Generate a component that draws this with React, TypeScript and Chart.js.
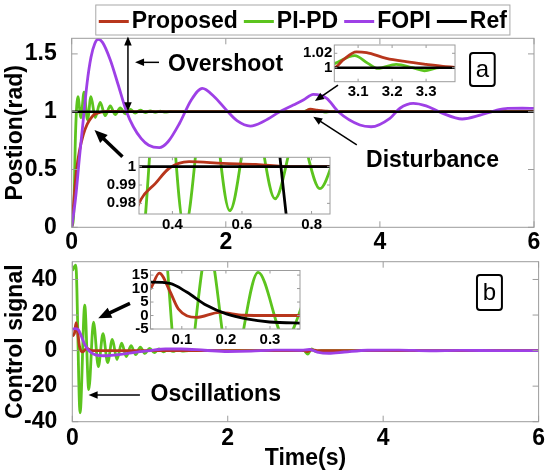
import React, { useEffect, useRef } from "react";
import { Chart, registerables } from "chart.js";

Chart.register(...registerables);

const FONT = "'Liberation Sans', Arial, Helvetica, sans-serif";
const W = 550;
const H = 475;

const RED = "#b8361c";
const GREEN = "#5cc41e";
const PURPLE = "#9e40e6";
const BLACK = "#000000";
const FRAME = "#9c9c9c";

// ---------- labels ----------
const seriesLabels = ["Proposed", "PI-PD", "FOPI", "Ref"];
const posTitle = "Postion(rad)";
const ctrlTitle = "Control signal";
const timeTitle = "Time(s)";

// ---------- ticks ----------
const posXTicks = [0, 2, 4, 6];
const posYTicks = [0, 0.5, 1, 1.5];
const ctrlXTicks = [0, 2, 4, 6];
const ctrlYTicks = [-40, -20, 0, 20, 40];
const zoomDistXTicks = [3.1, 3.2, 3.3];
const zoomDistYTicks = [1, 1.02];
const zoomRiseXTicks = [0.4, 0.6, 0.8];
const zoomRiseYTicks = [0.98, 0.99, 1];
const zoomCtrlXTicks = [0.1, 0.2, 0.3];
const zoomCtrlYTicks = [-5, 0, 5, 10, 15];

// ---------- position (a) : [time, rad] ----------
const posProposed = [
  [0, 0], [0.03, 0.25], [0.06, 0.48], [0.1, 0.66], [0.15, 0.8], [0.2, 0.89], [0.25, 0.945],
  [0.304, 0.98], [0.352, 0.991], [0.39, 0.999], [0.448, 1.0027], [0.545, 1.0018], [0.64, 1.0012],
  [0.74, 1.0], [3.0, 1.0], [3.03, 1.0], [3.056, 1.0107], [3.095, 1.022], [3.125, 1.0209],
  [3.183, 1.013], [3.241, 1.0083], [3.3, 1.0046], [3.358, 1.0014], [3.42, 1.0], [6, 1.0],
];
const posPIPD = [
  [0, 0], [0.025, 0.1], [0.05, 0.82], [0.08, 1.13], [0.12, 0.95], [0.16, 1.17], [0.205, 0.93],
  [0.25, 1.13], [0.305, 0.95], [0.37, 1.08], [0.435, 0.966], [0.5, 1.05], [0.565, 0.976],
  [0.63, 1.032], [0.695, 0.9825], [0.76, 1.02], [0.824, 0.988], [0.89, 1.013], [0.955, 0.992],
  [1.02, 1.008], [1.085, 0.995], [1.15, 1.005], [1.215, 0.997], [1.28, 1.002], [1.35, 1.0],
  [3.0, 1.0], [3.032, 1.006], [3.09, 1.0167], [3.129, 1.006], [3.158, 0.999], [3.212, 1.0046],
  [3.26, 1.0], [3.295, 0.9958], [3.34, 1.0], [6, 1.0],
];
const posFOPI = [
  [0, 0], [0.05, 0.25], [0.1, 0.6], [0.15, 0.93], [0.2, 1.25], [0.25, 1.47], [0.3, 1.59],
  [0.342, 1.626], [0.4, 1.6], [0.5, 1.45], [0.6, 1.24], [0.712, 1.0], [0.8, 0.87], [0.9, 0.77],
  [1.0, 0.71], [1.137, 0.689], [1.25, 0.74], [1.4, 0.9], [1.55, 1.1], [1.696, 1.202], [1.85, 1.13],
  [2.0, 1.02], [2.15, 0.92], [2.318, 0.876], [2.5, 0.92], [2.7, 1.0], [2.876, 1.058], [3.006, 1.101],
  [3.136, 1.15], [3.31, 1.116], [3.46, 1.0], [3.74, 0.885], [3.886, 0.87], [4.13, 0.943],
  [4.26, 1.03], [4.432, 1.072], [4.6, 1.05], [4.8, 0.99], [5.068, 0.937], [5.3, 0.97],
  [5.5, 1.01], [5.659, 1.029], [5.85, 1.03], [6, 1.028],
];
const posRef = [[0, 1], [6, 1]];

// ---------- control signal (b) : [time, value] ----------
const ctrlProposed = [
  [0, 8], [0.029, 10], [0.049, 15.7], [0.073, 9], [0.092, 2.5], [0.133, -0.7], [0.186, 1.2],
  [0.24, 0.1], [0.3, 0], [2.98, 0], [3.02, -0.6], [3.08, 0.4], [3.15, 0], [6, 0],
];
const ctrlPIPD = [
  [0, 45], [0.045, 48], [0.1, -35], [0.16, 25.5], [0.212, -22], [0.273, 16], [0.335, -9],
  [0.395, 9.5], [0.455, -6.8], [0.515, 6.3], [0.575, -5], [0.635, 4.2], [0.695, -3.4],
  [0.755, 2.8], [0.815, -2.3], [0.875, 1.9], [0.935, -1.6], [0.995, 1.3], [1.055, -1.1],
  [1.115, 0.9], [1.175, -0.7], [1.235, 0.6], [1.295, -0.45], [1.355, 0.35], [1.415, -0.25],
  [1.5, 0], [2.98, 0], [3.03, -2], [3.08, 1], [3.13, -0.5], [3.2, 0], [6, 0],
];
const ctrlFOPI = [
  [0, 12], [0.032, 12.4], [0.073, 11.9], [0.111, 8.7], [0.156, 3.8], [0.201, 0.6], [0.247, -1.25],
  [0.299, -2.4], [0.367, -2.8], [0.45, -2.9], [0.6, -2.3], [0.8, -1.0], [1.0, 0], [1.2, 0.9],
  [1.4, 0.9], [1.7, 0.2], [2.0, -0.5], [2.3, -0.3], [2.6, 0.3], [2.95, 0.2], [3.05, 0.6],
  [3.15, -0.8], [3.3, -1.5], [3.5, -0.8], [3.8, 0.2], [4.2, 0.3], [4.6, -0.1], [5.0, 0.1],
  [5.5, 0], [6, 0],
];

// ---------- layout (page pixels) ----------
const AREA_POS = { left: 71.7, right: 534, top: 38.3, bottom: 227.3 };
const AREA_CTRL = { left: 72.3, right: 539, top: 261.7, bottom: 421.7 };
const AREA_Z1 = { left: 334.3, right: 455, top: 45, bottom: 81.7 };
const AREA_Z2 = { left: 139, right: 330, top: 157.3, bottom: 214 };
const AREA_Z3 = { left: 150.5, right: 300, top: 270.5, bottom: 329 };

const pts = (a: number[][]) => a.map(([x, y]) => ({ x, y }));

function ds(label: string, data: number[][], color: string, order: number, width = 2.8) {
  return {
    label,
    data: pts(data),
    borderColor: color,
    backgroundColor: color,
    borderWidth: width,
    pointRadius: 0,
    fill: false,
    cubicInterpolationMode: "monotone",
    order,
  };
}

const numLabel = (v: any) => String(Number(v));

function framePlugin(id: string, tickLen: number, whiteBg: boolean) {
  return {
    id,
    beforeDatasetsDraw(chart: any) {
      if (!whiteBg) return;
      const { ctx, chartArea: a } = chart;
      ctx.save();
      ctx.fillStyle = "#ffffff";
      ctx.fillRect(a.left, a.top, a.right - a.left, a.bottom - a.top);
      ctx.restore();
    },
    afterDatasetsDraw(chart: any) {
      const { ctx, chartArea: a, scales } = chart;
      ctx.save();
      ctx.strokeStyle = FRAME;
      ctx.lineWidth = 1;
      ctx.strokeRect(a.left, a.top, a.right - a.left, a.bottom - a.top);
      ctx.beginPath();
      for (const t of scales.x.ticks) {
        const p = scales.x.getPixelForValue(t.value);
        ctx.moveTo(p, a.bottom);
        ctx.lineTo(p, a.bottom - tickLen);
        ctx.moveTo(p, a.top);
        ctx.lineTo(p, a.top + tickLen);
      }
      for (const t of scales.y.ticks) {
        const p = scales.y.getPixelForValue(t.value);
        ctx.moveTo(a.left, p);
        ctx.lineTo(a.left + tickLen, p);
        ctx.moveTo(a.right, p);
        ctx.lineTo(a.right - tickLen, p);
      }
      ctx.stroke();
      ctx.restore();
    },
  };
}

function headAt(ctx: any, x: number, y: number, ang: number, head: number) {
  const hw = head * 0.42;
  const c = Math.cos(ang);
  const s = Math.sin(ang);
  ctx.beginPath();
  ctx.moveTo(x, y);
  ctx.lineTo(x - head * c + hw * s, y - head * s - hw * c);
  ctx.lineTo(x - head * c - hw * s, y - head * s + hw * c);
  ctx.closePath();
  ctx.fill();
}

function drawArrow(ctx: any, x1: number, y1: number, x2: number, y2: number, lw: number, head: number, dbl: boolean) {
  const ang = Math.atan2(y2 - y1, x2 - x1);
  const c = Math.cos(ang);
  const s = Math.sin(ang);
  ctx.strokeStyle = "#000";
  ctx.fillStyle = "#000";
  ctx.lineWidth = lw;
  ctx.beginPath();
  const sx = dbl ? x1 + c * head * 0.8 : x1;
  const sy = dbl ? y1 + s * head * 0.8 : y1;
  ctx.moveTo(sx, sy);
  ctx.lineTo(x2 - c * head * 0.8, y2 - s * head * 0.8);
  ctx.stroke();
  headAt(ctx, x2, y2, ang, head);
  if (dbl) headAt(ctx, x1, y1, ang + Math.PI, head);
}

function annotationPlugin(id: string, items: any[]) {
  return {
    id,
    afterDraw(chart: any) {
      const { ctx, scales } = chart;
      const X = (t: number) => scales.x.getPixelForValue(t);
      const Y = (v: number) => scales.y.getPixelForValue(v);
      ctx.save();
      for (const it of items) {
        if (it.kind === "arrow") {
          drawArrow(ctx, X(it.from[0]), Y(it.from[1]), X(it.to[0]), Y(it.to[1]), it.lw, it.head, !!it.dbl);
        } else if (it.kind === "text") {
          ctx.fillStyle = "#000";
          ctx.font = `bold ${it.size}px ${FONT}`;
          ctx.textAlign = "left";
          ctx.textBaseline = "middle";
          ctx.fillText(it.text, X(it.at[0]), Y(it.at[1]));
        } else if (it.kind === "box") {
          const x0 = X(it.x0), x1 = X(it.x1), y0 = Y(it.y0), y1 = Y(it.y1);
          const r = 3;
          ctx.strokeStyle = "#000";
          ctx.lineWidth = 2;
          ctx.beginPath();
          ctx.roundRect(x0, y0, x1 - x0, y1 - y0, r);
          ctx.stroke();
          ctx.fillStyle = "#000";
          ctx.font = `24px ${FONT}`;
          ctx.textAlign = "center";
          ctx.textBaseline = "middle";
          ctx.fillText(it.text, (x0 + x1) / 2, (y0 + y1) / 2 + 1);
        }
      }
      ctx.restore();
    },
  };
}

const legendPlugin = {
  id: "matlabLegend",
  afterDraw(chart: any) {
    const { ctx, chartArea: a } = chart;
    const items = chart.data.datasets.filter((d: any) => d.showInLegend);
    ctx.save();
    ctx.font = `bold 23px ${FONT}`;
    const lineLen = 30, gapText = 3, gapItem = 6, pad = 3;
    const widths = items.map((d: any) => ctx.measureText(d.label).width);
    const content = widths.reduce((s: number, w: number) => s + w + lineLen + gapText, 0) + gapItem * (items.length - 1);
    const boxW = content + pad * 2;
    const cx = (a.left + a.right) / 2;
    const bx = cx - boxW / 2;
    const by = 5, bh = 30;
    ctx.fillStyle = "#fff";
    ctx.fillRect(bx, by, boxW, bh);
    ctx.strokeStyle = "#a8a8a8";
    ctx.lineWidth = 1;
    ctx.strokeRect(bx, by, boxW, bh);
    let x = bx + pad;
    const y = by + bh / 2 + 1.5;
    items.forEach((d: any, i: number) => {
      ctx.strokeStyle = d.legendColor || d.borderColor;
      ctx.lineWidth = 3;
      ctx.beginPath();
      ctx.moveTo(x, y);
      ctx.lineTo(x + lineLen, y);
      ctx.stroke();
      x += lineLen + gapText;
      ctx.fillStyle = "#000";
      ctx.textAlign = "left";
      ctx.textBaseline = "middle";
      ctx.fillText(d.label, x, y);
      x += widths[i] + gapItem;
    });
    ctx.restore();
  },
};

function buildOptions(o: any) {
  const font = { family: FONT, size: o.fontSize, weight: "bold", lineHeight: 1 };
  const titleFont = { family: FONT, size: 23, weight: "bold", lineHeight: 1 };
  return {
    animation: false,
    responsive: false,
    maintainAspectRatio: false,
    events: [],
    layout: { padding: { left: 0, top: o.area.top, right: W - o.area.right, bottom: 0 } },
    plugins: { legend: { display: false }, tooltip: { enabled: false }, title: { display: false } },
    scales: {
      x: {
        type: "linear",
        position: "bottom",
        min: o.xMin,
        max: o.xMax,
        afterBuildTicks: (s: any) => { s.ticks = o.xTicks.map((v: number) => ({ value: v })); },
        afterFit: (s: any) => { s.height = H - o.area.bottom; },
        grid: { display: false, drawTicks: false },
        border: { display: false },
        ticks: { font, color: "#000", padding: o.xPad, maxRotation: 0, autoSkip: false, callback: numLabel },
        title: o.xTitle
          ? { display: true, text: o.xTitle, font: titleFont, color: "#000", padding: { top: 0, bottom: 5 } }
          : { display: false },
      },
      y: {
        type: "linear",
        position: "left",
        min: o.yMin,
        max: o.yMax,
        afterBuildTicks: (s: any) => { s.ticks = o.yTicks.map((v: number) => ({ value: v })); },
        afterFit: (s: any) => { s.width = o.area.left; },
        grid: { display: false, drawTicks: false },
        border: { display: false },
        ticks: { font, color: "#000", padding: o.yPad, autoSkip: false, callback: numLabel },
        title: o.yTitle
          ? { display: true, text: o.yTitle, font: titleFont, color: "#000", padding: { top: 4.5, bottom: 0 } }
          : { display: false },
      },
    },
  };
}

function legendDs(d: any) {
  return { ...d, showInLegend: true };
}

function cfgPosition(): any {
  return {
    type: "line",
    data: {
      datasets: [
        legendDs(ds(seriesLabels[0], posProposed, RED, 2)),
        legendDs(ds(seriesLabels[1], posPIPD, GREEN, 3)),
        legendDs(ds(seriesLabels[2], posFOPI, PURPLE, 1)),
        legendDs(ds(seriesLabels[3], posRef, BLACK, 0, 2.6)),
      ],
    },
    options: buildOptions({
      area: AREA_POS, xMin: 0, xMax: 6, yMin: 0, yMax: 1.635,
      xTicks: posXTicks, yTicks: posYTicks, fontSize: 23, xPad: 4, yPad: 15, yTitle: posTitle,
    }),
    plugins: [
      framePlugin("frameA", 6, false),
      legendPlugin,
      annotationPlugin("annA", [
        { kind: "arrow", from: [0.73, 1.65], to: [0.73, 1.005], lw: 1.5, head: 9, dbl: true },
        { kind: "arrow", from: [1.133, 1.427], to: [0.822, 1.427], lw: 1.5, head: 9 },
        { kind: "text", at: [1.25, 1.404], text: "Overshoot", size: 23 },
        { kind: "arrow", from: [3.456, 1.23], to: [3.157, 1.093], lw: 1.6, head: 9 },
        { kind: "arrow", from: [3.7, 0.712], to: [3.135, 0.957], lw: 1.5, head: 9 },
        { kind: "text", at: [3.82, 0.576], text: "Disturbance", size: 23 },
        { kind: "arrow", from: [0.659, 0.611], to: [0.296, 0.842], lw: 3.5, head: 13 },
        { kind: "box", x0: 5.17, x1: 5.49, y0: 1.508, y1: 1.222, text: "a" },
      ]),
    ],
  };
}

function cfgControl(): any {
  return {
    type: "line",
    data: {
      datasets: [
        ds(seriesLabels[0], ctrlProposed, RED, 2),
        ds(seriesLabels[1], ctrlPIPD, GREEN, 3),
        ds(seriesLabels[2], ctrlFOPI, PURPLE, 1),
      ],
    },
    options: buildOptions({
      area: AREA_CTRL, xMin: 0, xMax: 6, yMin: -40, yMax: 50,
      xTicks: ctrlXTicks, yTicks: ctrlYTicks, fontSize: 23, xPad: 5, yPad: 15,
      yTitle: ctrlTitle, xTitle: timeTitle,
    }),
    plugins: [
      framePlugin("frameB", 6, false),
      annotationPlugin("annB", [
        { kind: "arrow", from: [0.742, 26.6], to: [0.334, 18.2], lw: 3.5, head: 13 },
        { kind: "arrow", from: [0.87, -25], to: [0.21, -25], lw: 1.5, head: 9 },
        { kind: "text", at: [1.007, -25], text: "Oscillations", size: 23 },
        { kind: "box", x0: 5.207, x1: 5.528, y0: 42.5, y1: 22.8, text: "b" },
      ]),
    ],
  };
}

function cfgZoomDist(): any {
  return {
    type: "line",
    data: {
      datasets: [
        ds(seriesLabels[2], posFOPI, PURPLE, 3),
        ds(seriesLabels[1], posPIPD, GREEN, 2),
        ds(seriesLabels[0], posProposed, RED, 1),
        ds(seriesLabels[3], posRef, BLACK, 0, 2.6),
      ],
    },
    options: buildOptions({
      area: AREA_Z1, xMin: 3.03, xMax: 3.385, yMin: 0.9806, yMax: 1.0315,
      xTicks: zoomDistXTicks, yTicks: zoomDistYTicks, fontSize: 15, xPad: 3, yPad: 2,
    }),
    plugins: [framePlugin("frameZ1", 3, true)],
  };
}

function cfgZoomRise(): any {
  return {
    type: "line",
    data: {
      datasets: [
        ds(seriesLabels[1], posPIPD, GREEN, 3),
        ds(seriesLabels[0], posProposed, RED, 2),
        ds(seriesLabels[2], posFOPI, BLACK, 1),
        ds(seriesLabels[3], posRef, BLACK, 0, 2.6),
      ],
    },
    options: buildOptions({
      area: AREA_Z2, xMin: 0.304, xMax: 0.853, yMin: 0.9742, yMax: 1.0051,
      xTicks: zoomRiseXTicks, yTicks: zoomRiseYTicks, fontSize: 15, xPad: 3, yPad: 3,
    }),
    plugins: [framePlugin("frameZ2", 3, true)],
  };
}

function cfgZoomCtrl(): any {
  return {
    type: "line",
    data: {
      datasets: [
        ds(seriesLabels[1], ctrlPIPD, GREEN, 2),
        ds(seriesLabels[0], ctrlProposed, RED, 1),
        ds(seriesLabels[2], ctrlFOPI, BLACK, 0),
      ],
    },
    options: buildOptions({
      area: AREA_Z3, xMin: 0.029, xMax: 0.368, yMin: -5, yMax: 16.7,
      xTicks: zoomCtrlXTicks, yTicks: zoomCtrlYTicks, fontSize: 15, xPad: 3, yPad: 2,
    }),
    plugins: [framePlugin("frameZ3", 3, true)],
  };
}

export default function App() {
  const r1 = useRef<HTMLCanvasElement>(null);
  const r2 = useRef<HTMLCanvasElement>(null);
  const r3 = useRef<HTMLCanvasElement>(null);
  const r4 = useRef<HTMLCanvasElement>(null);
  const r5 = useRef<HTMLCanvasElement>(null);

  useEffect(() => {
    const charts = [
      new Chart(r1.current as HTMLCanvasElement, cfgPosition()),
      new Chart(r2.current as HTMLCanvasElement, cfgControl()),
      new Chart(r3.current as HTMLCanvasElement, cfgZoomDist()),
      new Chart(r4.current as HTMLCanvasElement, cfgZoomRise()),
      new Chart(r5.current as HTMLCanvasElement, cfgZoomCtrl()),
    ];
    return () => charts.forEach((c) => c.destroy());
  }, []);

  const st: any = { position: "absolute", left: 0, top: 0, width: W, height: H };
  return (
    <div style={{ position: "fixed", left: 0, top: 0, width: W, height: H, background: "#fff" }}>
      <canvas ref={r1} width={W} height={H} style={st} />
      <canvas ref={r2} width={W} height={H} style={st} />
      <canvas ref={r3} width={W} height={H} style={st} />
      <canvas ref={r4} width={W} height={H} style={st} />
      <canvas ref={r5} width={W} height={H} style={st} />
    </div>
  );
}
